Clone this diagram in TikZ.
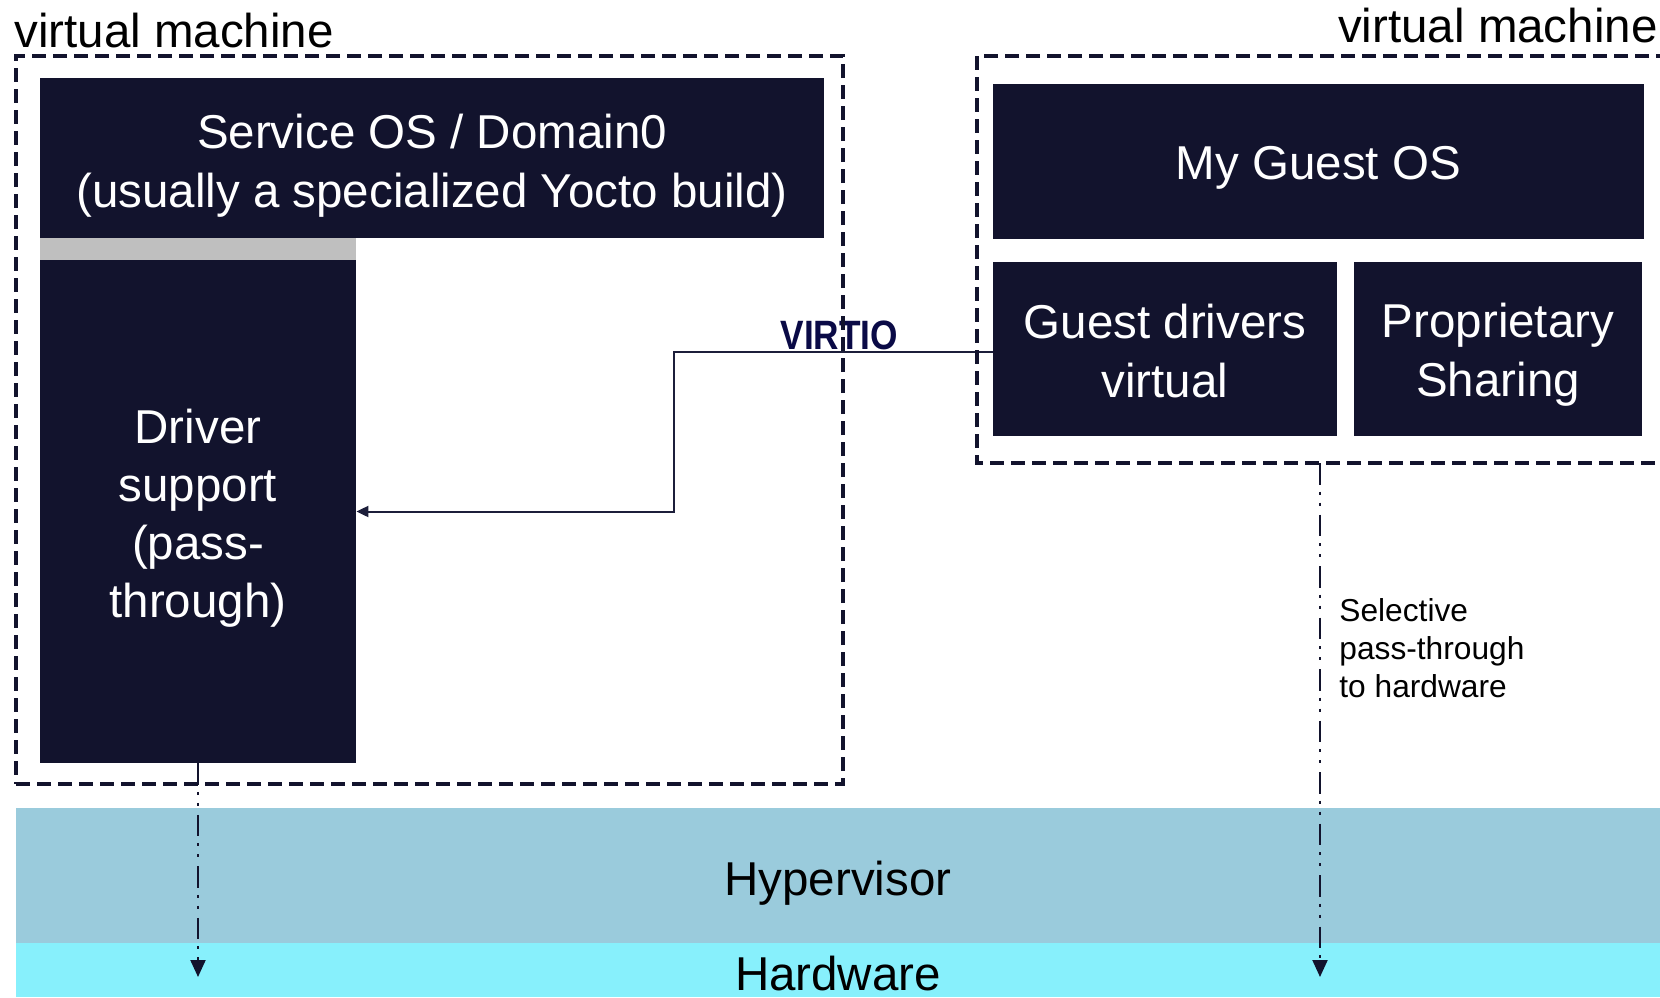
\documentclass[tikz,border=0pt]{standalone}
\usepackage{fontspec}
\setmainfont{Liberation Sans}
\usetikzlibrary{fit,arrows.meta}

\definecolor{navy}{RGB}{18,19,45}
\definecolor{hyper}{RGB}{154,203,220}
\definecolor{hw}{RGB}{135,240,252}
\definecolor{sepgray}{RGB}{191,191,191}
\definecolor{virtioblue}{RGB}{10,10,70}
\definecolor{wire}{RGB}{28,30,58}

\tikzset{
  bigtext/.style={font=\fontsize{23.75}{29.5}\selectfont},
  osbox/.style={fill=navy, inner sep=0pt},
  ostext/.style={text=white, inner sep=0pt, align=center, bigtext},
  layer/.style={inner sep=0pt},
  vmframe/.style={draw=navy, line width=2.3pt, dash pattern=on 7pt off 3.5pt},
  link/.style={draw=wire, line width=1pt, -{Triangle[length=6pt,width=5.5pt]}},
  passdown/.style={draw=navy, line width=1.05pt,
    dash pattern=on 10.75pt off 3.5pt on 1.5pt off 4pt on 1.5pt off 4.5pt,
    -{Triangle[length=8.5pt,width=7.5pt]}},
  virtiolab/.style={font=\fontsize{20.5}{24}\selectfont\bfseries, text=virtioblue, inner sep=0pt, anchor=base},
  note/.style={font=\fontsize{15.85}{19}\selectfont, align=left, inner sep=0pt}
}

\begin{document}
\begin{tikzpicture}[x=0.5pt, y=-0.5pt]
\useasboundingbox (0,0) rectangle (1660,997);

% hypervisor and hardware layers
\node[layer, fill=hyper, fit={(16,808) (1660,943)}] (hyp) {};
\node[bigtext, inner sep=0pt] (hyptext) at ([yshift=-3.7pt]hyp.center) {Hypervisor};
\node[layer, fill=hw, fit={(16,943) (1660,997)}] (hwlayer) {};
\node[bigtext, anchor=base, inner sep=0pt] (hwtext) at (838,990) {Hardware};

% service OS (left virtual machine)
\node[osbox, fit={(40,78) (824,238)}] (sos) {};
\node[ostext] (sostext) at ([yshift=-3.7pt]sos.center) {Service OS / Domain0\\(usually a specialized Yocto build)};
\node[fill=sepgray, inner sep=0pt, fit={(40,238) (356,260)}] (sepbar) {};
\node[osbox, fit={(40,260) (356,763)}] (drv) {};
\node[ostext, font=\fontsize{23.75}{29}\selectfont] (drvtext) at ([yshift=-3.6pt]drv.center) {Driver\\support\\(pass-\\through)};

% guest OS (right virtual machine)
\node[osbox, fit={(993,84) (1644,239)}] (guest) {};
\node[ostext] (guesttext) at ([yshift=-3.2pt]guest.center) {My Guest OS};
\node[osbox, fit={(993,261.5) (1337,436)}] (gdrv) {};
\node[ostext] (gdrvtext) at ([yshift=-1pt]gdrv.center) {Guest drivers\\virtual};
\node[osbox, fit={(1354,261.5) (1642,436)}] (prop) {};
\node[ostext] (proptext) at ([yshift=-3pt]prop.center) {Proprietary\\Sharing};

% VIRTIO connection
\coordinate (bend) at (674,351.5);
\coordinate (virtiostart) at (gdrv.west |- bend);
\draw[link] (virtiostart) -- node[virtiolab, xshift=3pt, yshift=0.8pt] (virtio) {\scalebox{0.86}[1]{VIRTIO}} (bend) |- (drv.east);

% virtual machine frames
\node[vmframe, inner sep=0pt, fit={(16,56) (843,784)}] (vmleft) {};
\draw[vmframe] (1670,56) -- (977,56) -- (977,463) -- (1670,463);
\coordinate (vmRbottom) at (1320,463);

\node[bigtext, anchor=base west, inner sep=0pt] (vmLlabel) at (14,47.6) {virtual machine};
\node[bigtext, anchor=base east, inner sep=0pt] (vmRlabel) at (1658,42) {virtual machine};

% pass-through to hardware
\coordinate (hwL) at (198,977);
\coordinate (hwR) at (1320,977);
\draw[passdown] (drv.south) -- (hwL);
\draw[passdown] (vmRbottom) -- (hwR);

\node[note, anchor=west] (seltext) at (1339,648) {Selective\\pass-through\\to hardware};
\end{tikzpicture}
\end{document}
